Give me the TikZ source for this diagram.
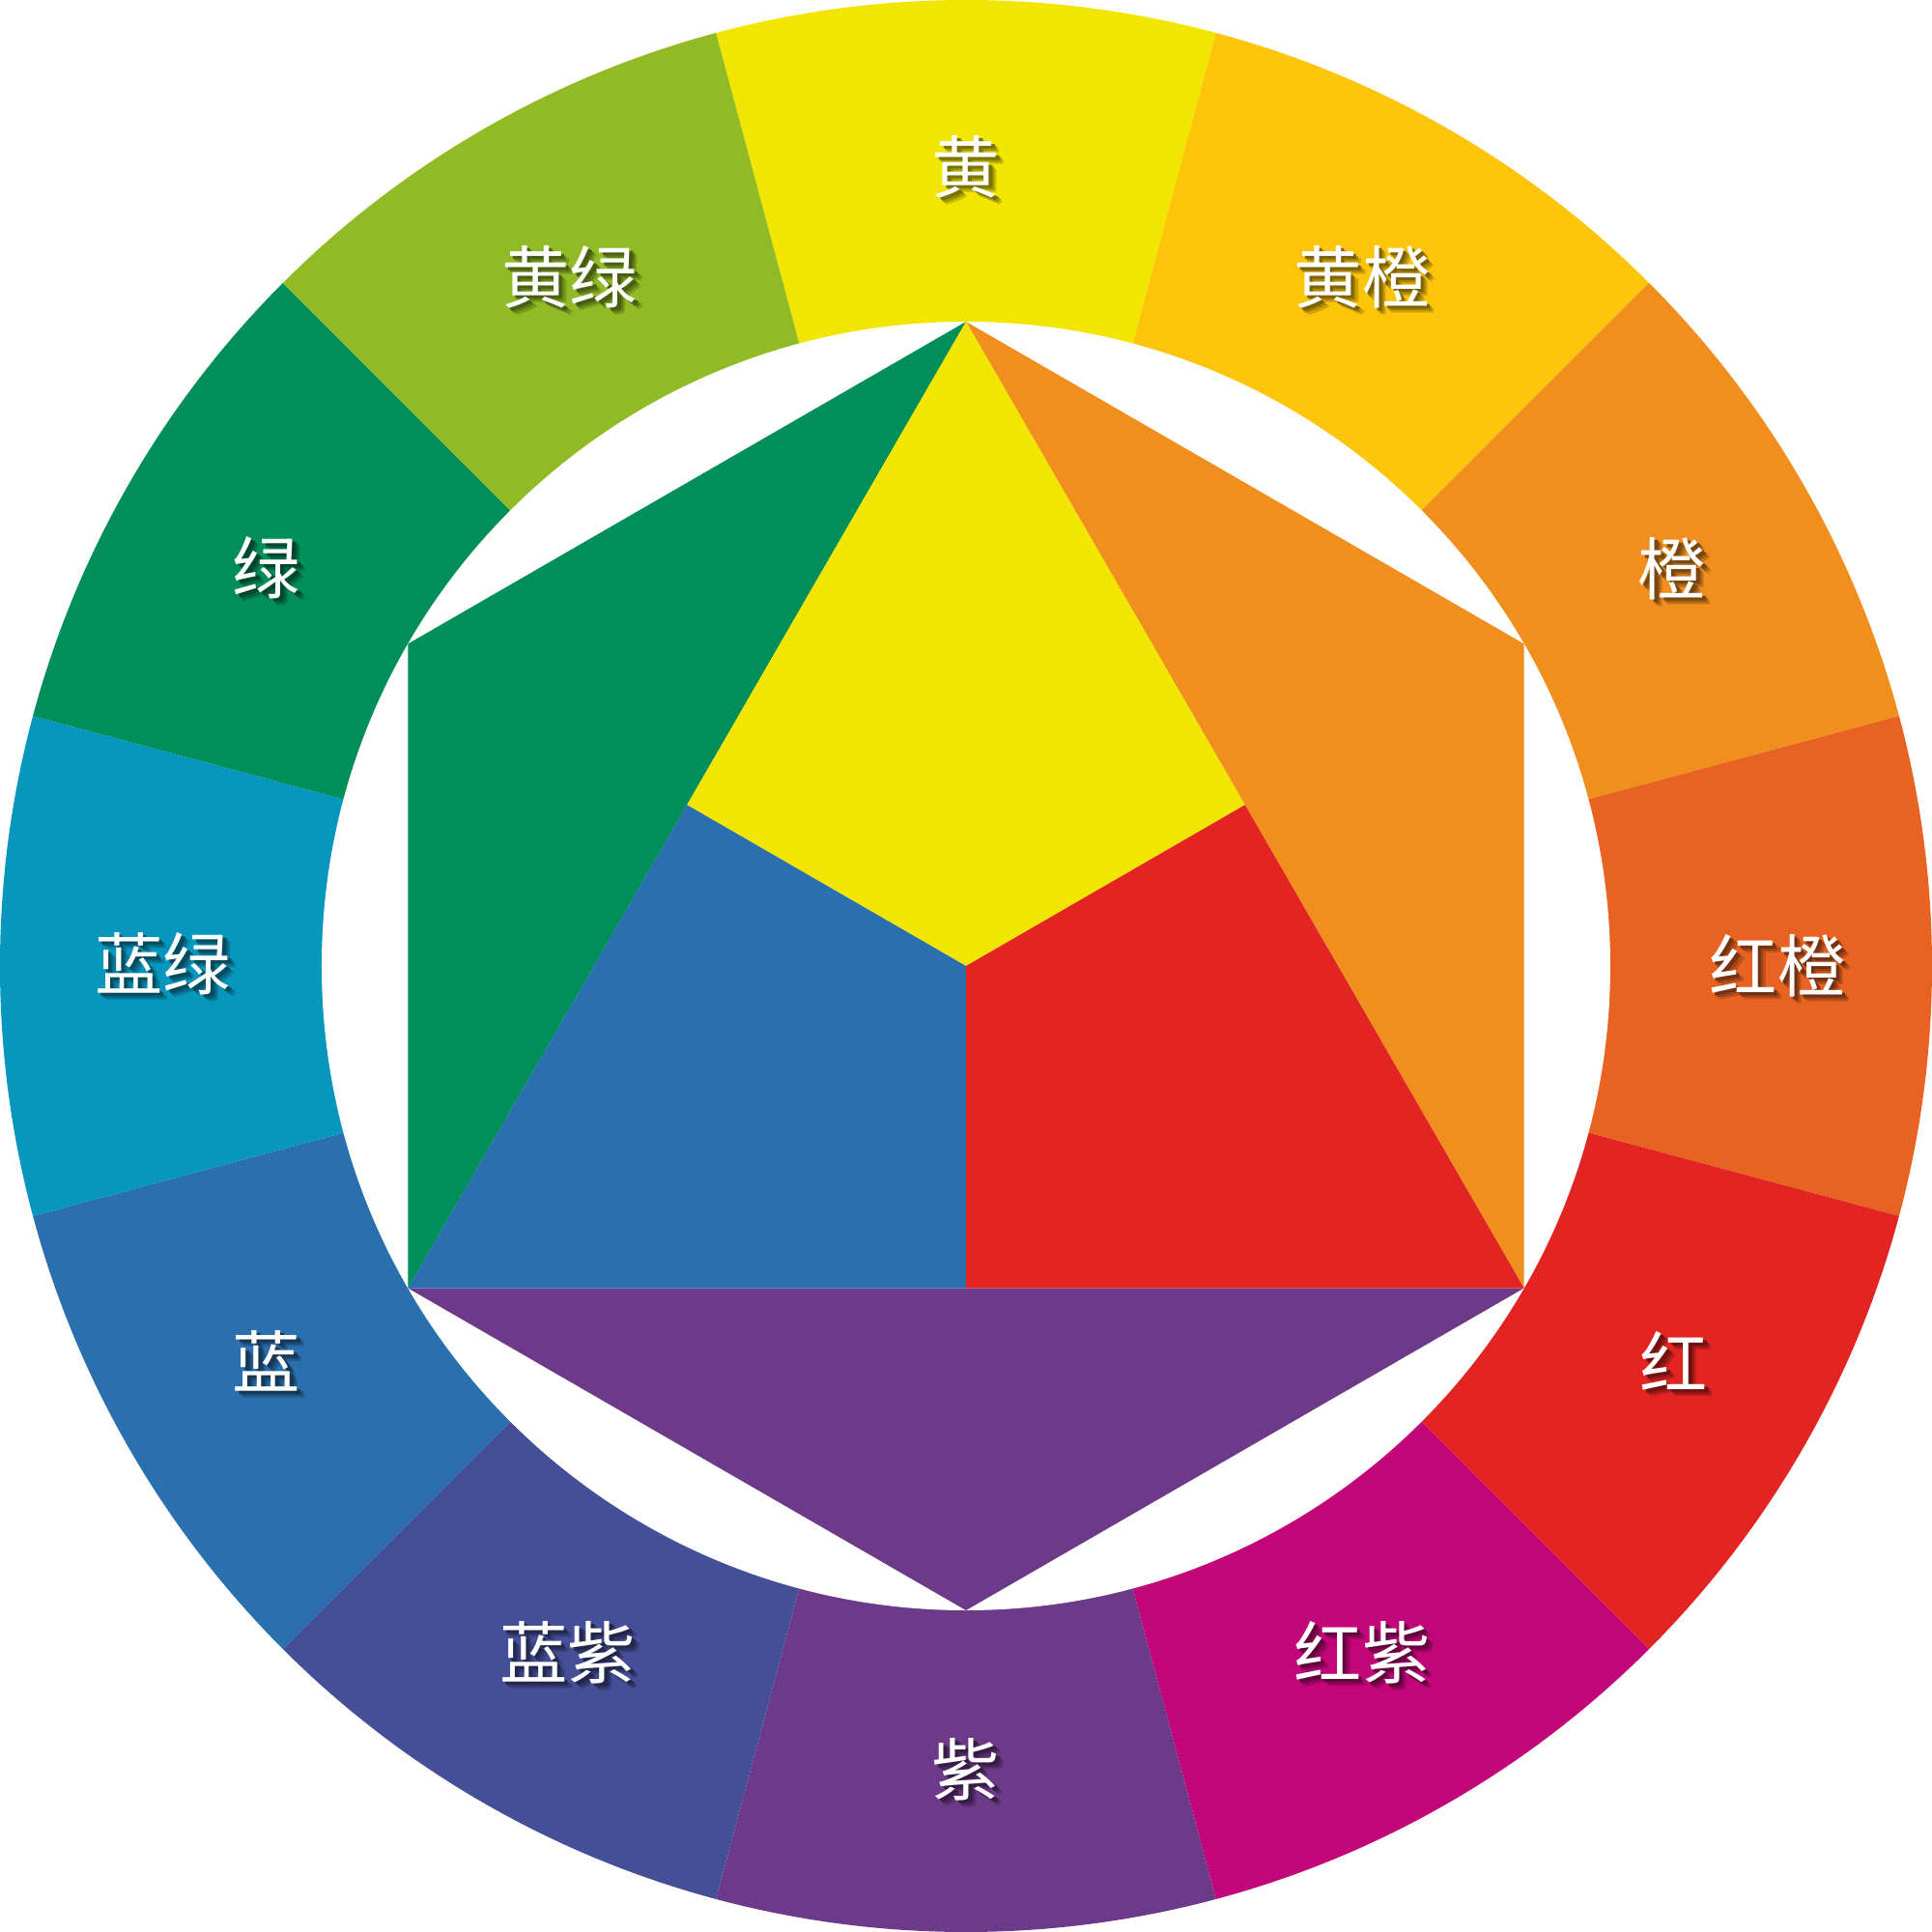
\documentclass[tikz,border=0pt]{standalone}
\usepackage{fontspec}
\newfontfamily\cjk{Noto Sans CJK SC}
\definecolor{cY}{RGB}{242,230,0}
\definecolor{cYO}{RGB}{252,197,10}
\definecolor{cO}{RGB}{240,142,30}
\definecolor{cRO}{RGB}{232,98,33}
\definecolor{cR}{RGB}{226,36,34}
\definecolor{cRV}{RGB}{195,5,122}
\definecolor{cV}{RGB}{109,58,138}
\definecolor{cBV}{RGB}{68,79,152}
\definecolor{cB}{RGB}{43,112,174}
\definecolor{cBG}{RGB}{7,150,190}
\definecolor{cG}{RGB}{0,142,90}
\definecolor{cYG}{RGB}{144,187,37}
\newcommand{\shtxt}[2]{%
  \rlap{\hspace{2.1pt}\raisebox{-2.1pt}{\color{#1!82!black}#2}}%
  \rlap{\hspace{1.5pt}\raisebox{-1.5pt}{\color{#1!66!black}#2}}%
  \rlap{\hspace{0.9pt}\raisebox{-0.9pt}{\color{#1!50!black}#2}}%
  \color{white}#2}
\tikzset{
  lbl/.style={font=\cjk\fontsize{20pt}{20pt}\selectfont, inner sep=0pt, yshift=-0.035cm},
}
\begin{document}
\begin{tikzpicture}
\useasboundingbox (-10,-10) rectangle (10,10);
\def\ri{6.67}
% ring sectors
\foreach \a/\c in {90/cY,60/cYO,30/cO,0/cRO,-30/cR,-60/cRV,-90/cV,-120/cBV,-150/cB,-180/cBG,-210/cG,-240/cYG}{
  \fill[\c] (0,0) -- (\a-15:10) arc[start angle=\a-15, end angle=\a+15, radius=10] -- cycle;
}
\fill[white] (0,0) circle[radius=\ri];
% points
\coordinate (T) at (90:\ri);
\coordinate (L) at (210:\ri);
\coordinate (R) at (330:\ri);
\coordinate (GL) at (150:\ri);
\coordinate (GR) at (30:\ri);
\coordinate (B) at (270:\ri);
\coordinate (ML) at (150:\ri/2);
\coordinate (MR) at (30:\ri/2);
\coordinate (MB) at (270:\ri/2);
\coordinate (O) at (0,0);
\fill[cG] (T) -- (GL) -- (L) -- cycle;
\fill[cO] (T) -- (GR) -- (R) -- cycle;
\fill[cV] (L) -- (R) -- (B) -- cycle;
\fill[cY] (T) -- (MR) -- (O) -- (ML) -- cycle;
\fill[cR] (MR) -- (R) -- (MB) -- (O) -- cycle;
\fill[cB] (ML) -- (O) -- (MB) -- (L) -- cycle;
% labels
\foreach \x/\y/\c/\t [count=\i] in {0/8.27/cY/黄,4.10/7.13/cYO/黄橙,7.31/4.11/cO/橙,8.40/0/cRO/红橙,7.33/-4.09/cR/红,4.10/-7.11/cRV/红紫,0/-8.32/cV/紫,-4.12/-7.11/cBV/蓝紫,-7.24/-4.09/cB/蓝,-8.31/0.02/cBG/蓝绿,-7.24/4.12/cG/绿,-4.10/7.13/cYG/黄绿}{
  \node[lbl] (l\i) at (\x,\y) {\shtxt{\c}{\t}};
}
\end{tikzpicture}
\end{document}
